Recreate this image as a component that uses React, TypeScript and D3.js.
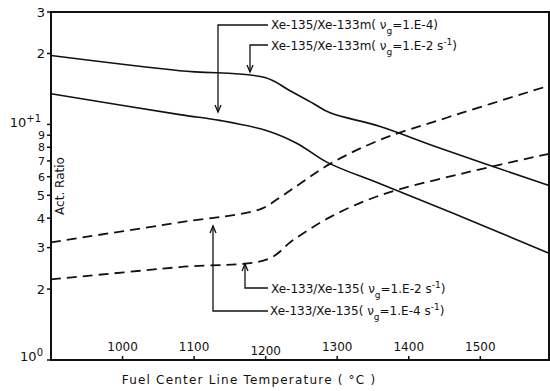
import React from "react";
import * as d3 from "d3";

const xTicks = [1000, 1100, 1200, 1300, 1400, 1500];
const yMajor = [1, 10];
const yMinorLabels = [2, 3, 4, 5, 6, 7, 8, 9, 20, 30];

const tA = [900, 1080, 1199, 1234, 1266, 1290, 1360, 1440, 1596];
const vA = [19.6, 16.9, 15.8, 13.9, 12.3, 11.2, 9.8, 8.0, 5.5];

const tB = [900, 1080, 1136, 1202, 1244, 1286, 1360, 1462, 1596];
const vB = [13.5, 11.0, 10.4, 9.4, 8.3, 6.9, 5.6, 4.2, 2.84];

const tC = [900, 1080, 1192, 1220, 1248, 1290, 1360, 1454, 1596];
const vC = [3.16, 3.84, 4.36, 4.9, 5.6, 6.8, 8.6, 10.7, 14.6];

const tD = [900, 1080, 1203, 1238, 1290, 1360, 1476, 1596];
const vD = [2.2, 2.48, 2.68, 3.22, 4.04, 5.0, 6.2, 7.5];

const W = 550, H = 391;
const L = 51, R = 549, T = 12, B = 360;
const font = "'DejaVu Sans', sans-serif";

export default function App() {
  const x = d3.scaleLinear().domain([900, 1596]).range([L, R]);
  const y = d3.scaleLog().domain([1, 30]).range([B, T]);
  const line = d3
    .line<[number, number]>()
    .x((d) => x(d[0]))
    .y((d) => y(d[1]))
    .curve(d3.curveCatmullRom.alpha(0.5));
  const zip = (ts: number[], vs: number[]) => ts.map((t, i) => [t, vs[i]] as [number, number]);

  const allMinor: number[] = [];
  for (let v = 2; v <= 9; v++) allMinor.push(v);
  for (let v = 20; v <= 30; v += 10) allMinor.push(v);

  const arrow = (x0: number, yTip: number, down: boolean) => {
    const s = down ? -1 : 1;
    return `M${x0 - 3},${yTip + s * 7} L${x0},${yTip} L${x0 + 3},${yTip + s * 7}`;
  };

  const sub = (g: string) => (
    <tspan>
      ν<tspan baselineShift="sub" fontSize="9">{g}</tspan>
    </tspan>
  );

  return (
    <svg width={W} height={H} style={{ position: "absolute", left: 0, top: 0, background: "#fff" }} fontFamily={font}>
      <rect x={0} y={0} width={W} height={H} fill="#fff" />
      {/* frame */}
      <path d={`M${L},${T} L${R},${T} L${R},${B} L${L},${B} Z`} fill="none" stroke="#111" strokeWidth={2} />
      {/* y ticks */}
      {allMinor.concat(yMajor).map((v) => (
        <line key={"yt" + v} x1={L - 4} x2={L} y1={y(v)} y2={y(v)} stroke="#111" strokeWidth={1.5} />
      ))}
      {yMinorLabels.map((v) => (
        <text key={"yl" + v} x={L - 6} y={y(v)} dy="0.35em" textAnchor="end" fontSize={v >= 6 && v <= 9 ? 11 : 13} fill="#111">
          {v >= 10 ? v / 10 : v}
        </text>
      ))}
      <text x={L - 10} y={y(10)} dy="0.2em" textAnchor="end" fontSize={13} fill="#111">
        10<tspan baselineShift="super" fontSize={10}>+1</tspan>
      </text>
      <text x={L - 8} y={y(1)} dy="0.1em" textAnchor="end" fontSize={13} fill="#111">
        10<tspan baselineShift="super" fontSize={10}>0</tspan>
      </text>
      {/* x ticks */}
      {xTicks.map((t) => (
        <g key={"xt" + t}>
          <line x1={x(t)} x2={x(t)} y1={B} y2={B - 4} stroke="#111" strokeWidth={1.5} />
          <text x={x(t)} y={t === 1200 ? 355 : 351} textAnchor="middle" fontSize={12} fill="#111">
            {t}
          </text>
        </g>
      ))}
      <text x={249} y={384} textAnchor="middle" fontSize={12} letterSpacing={1.2} fill="#111">
        Fuel Center Line Temperature ( °C )
      </text>
      <text transform={`translate(64,186) rotate(-90)`} textAnchor="middle" fontSize={12} fill="#111">
        Act. Ratio
      </text>
      {/* curves */}
      <path d={line(zip(tA, vA)) || ""} fill="none" stroke="#111" strokeWidth={1.6} />
      <path d={line(zip(tB, vB)) || ""} fill="none" stroke="#111" strokeWidth={1.6} />
      <path d={line(zip(tC, vC)) || ""} fill="none" stroke="#111" strokeWidth={1.8} strokeDasharray="10,6" />
      <path d={line(zip(tD, vD)) || ""} fill="none" stroke="#111" strokeWidth={1.8} strokeDasharray="10,6" />
      {/* annotations */}
      <g stroke="#111" strokeWidth={1.3} fill="none">
        <path d="M268,25 L218,25 L218,112" />
        <path d={arrow(218, 112, true)} />
        <path d="M268,45 L250,45 L250,72" />
        <path d={arrow(250, 72, true)} />
        <path d="M268,288 L245,288 L245,264" />
        <path d={arrow(245, 264, false)} />
        <path d="M268,311 L213,311 L213,226" />
        <path d={arrow(213, 226, false)} />
      </g>
      <g fontSize={12} fill="#111">
        <text x={271} y={29}>
          Xe-135/Xe-133m( {sub("g")}=1.E-4)
        </text>
        <text x={271} y={50}>
          Xe-135/Xe-133m( {sub("g")}=1.E-2 s<tspan baselineShift="super" fontSize={9}>-1</tspan>)
        </text>
        <text x={271} y={293}>
          Xe-133/Xe-135( {sub("g")}=1.E-2 s<tspan baselineShift="super" fontSize={9}>-1</tspan>)
        </text>
        <text x={270} y={315}>
          Xe-133/Xe-135( {sub("g")}=1.E-4 s<tspan baselineShift="super" fontSize={9}>-1</tspan>)
        </text>
      </g>
    </svg>
  );
}
